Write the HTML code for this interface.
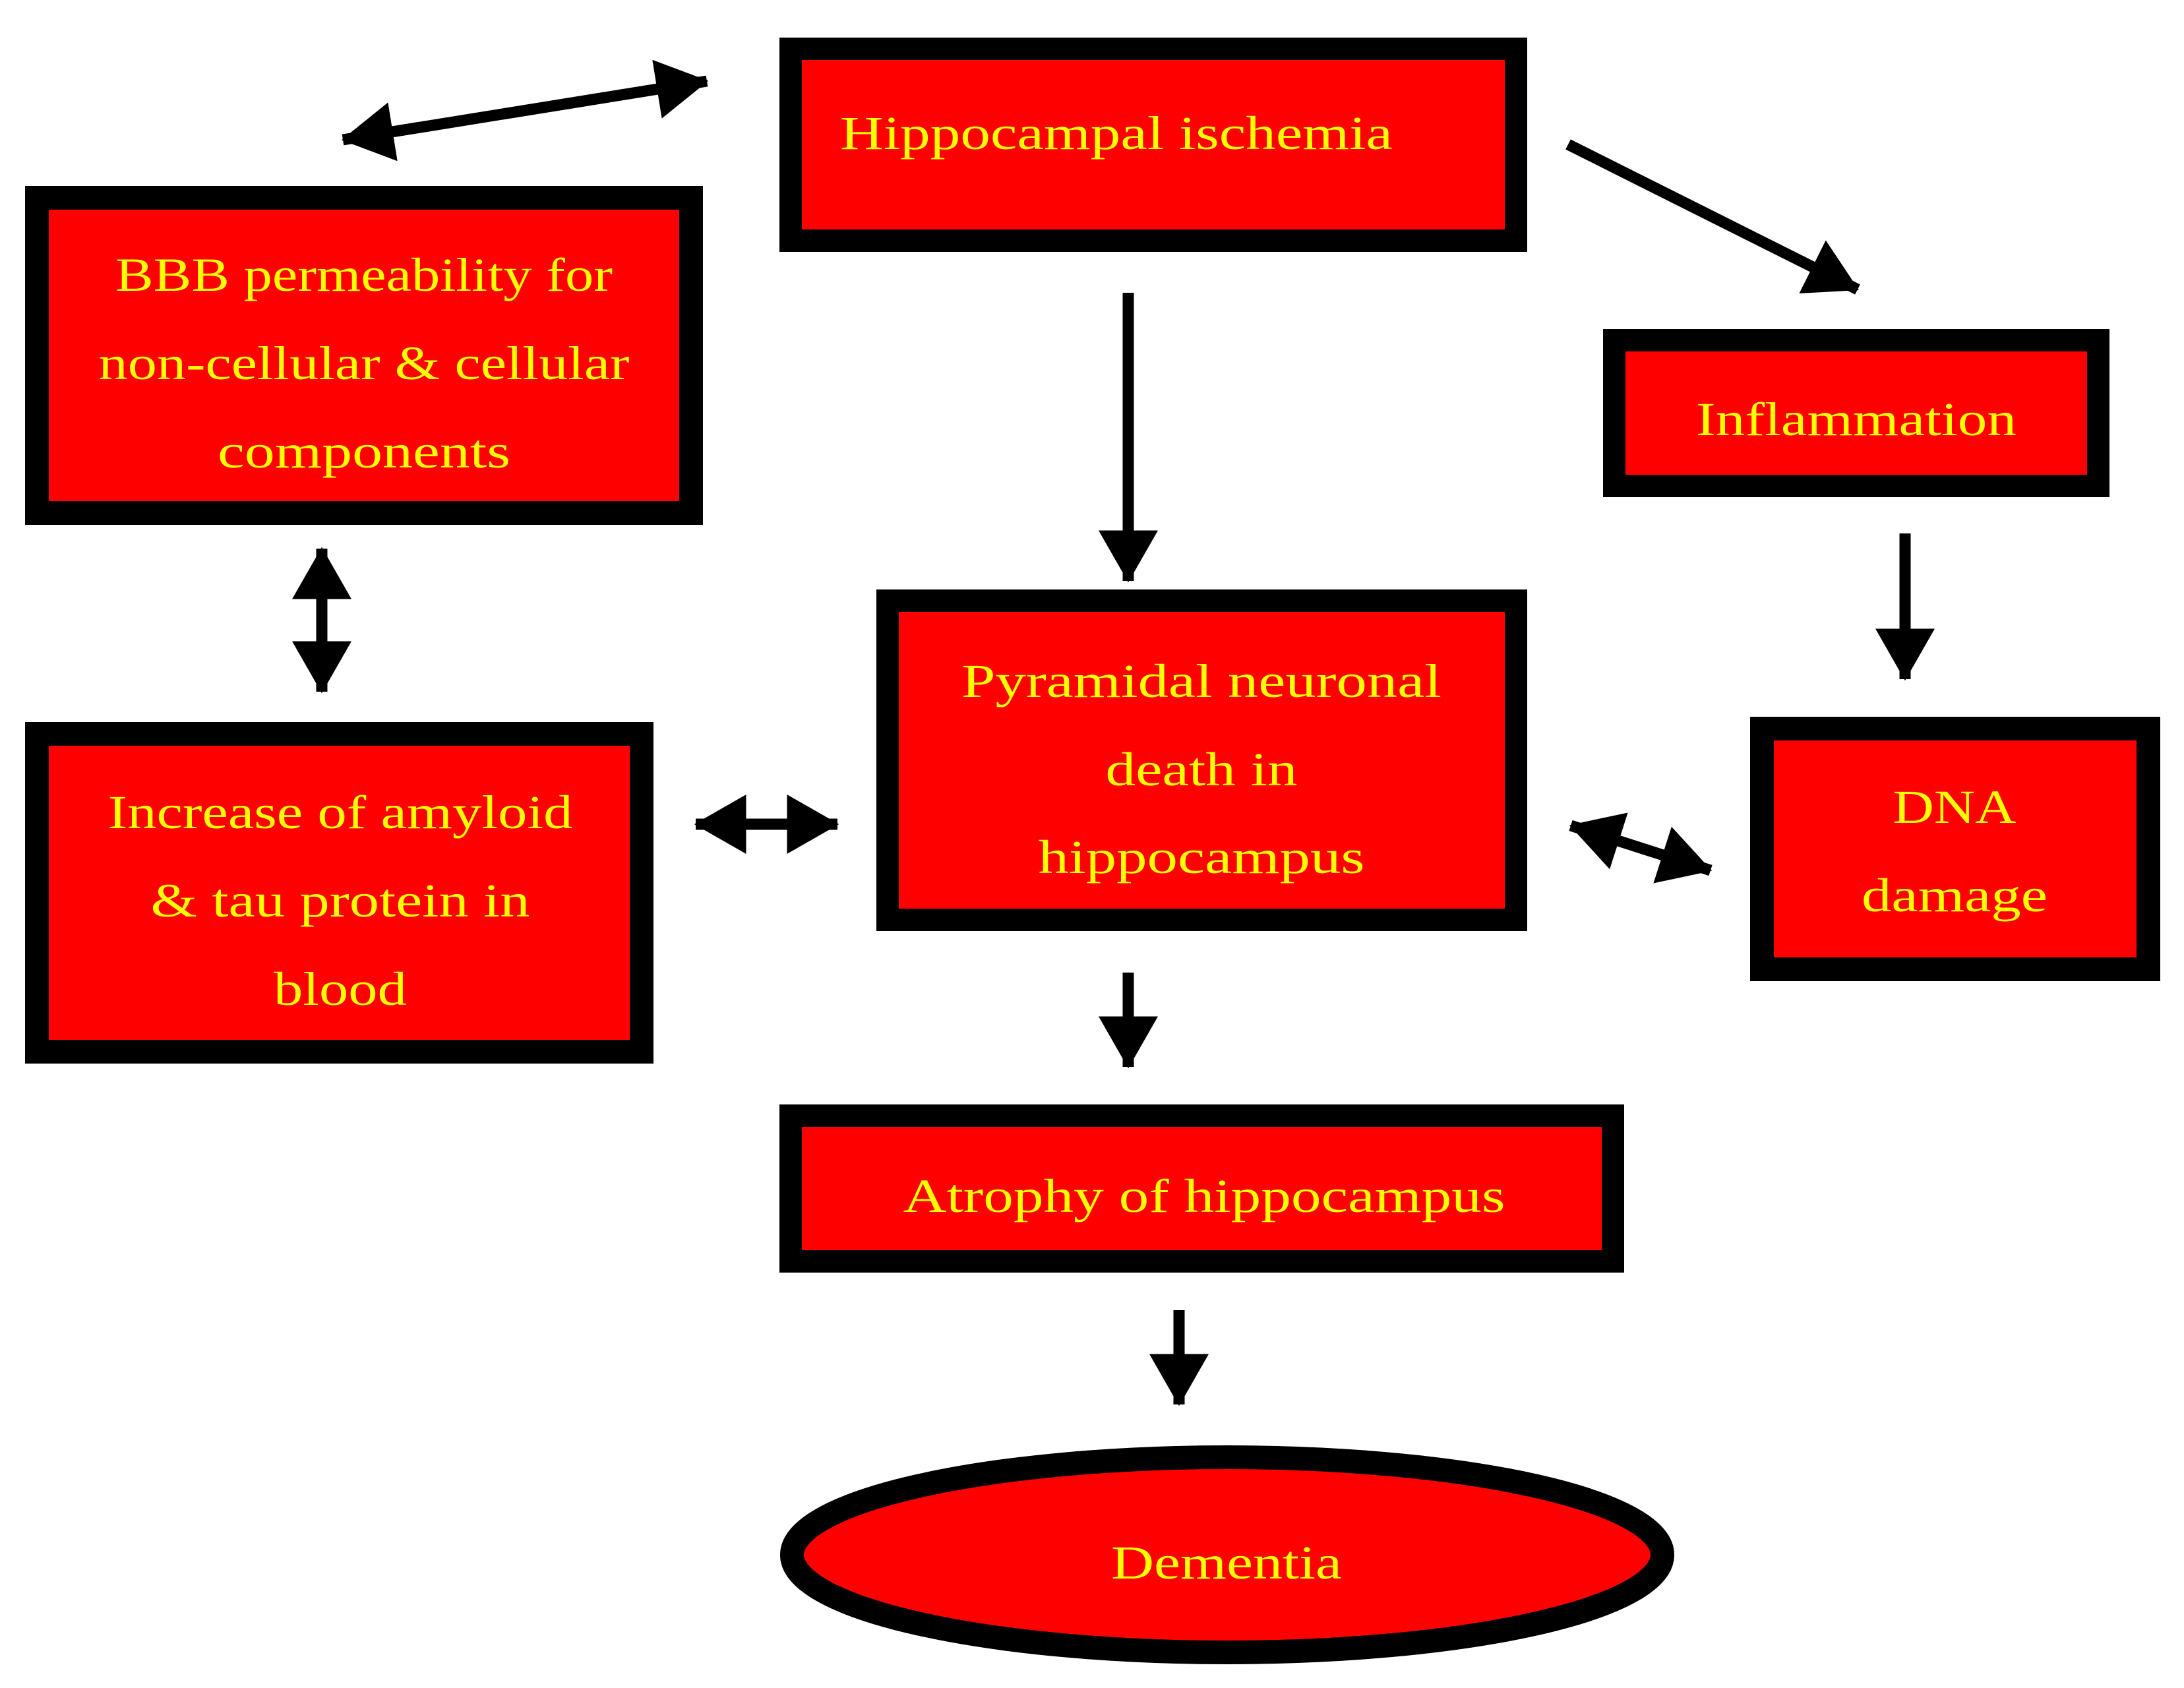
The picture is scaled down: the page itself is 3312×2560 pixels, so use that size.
<!DOCTYPE html>
<html><head><meta charset="utf-8"><style>html,body{margin:0;padding:0;background:#fff}svg{display:block}</style></head>
<body>
<svg width="3312" height="2560" viewBox="0 0 3312 2560" xmlns="http://www.w3.org/2000/svg">
<defs>
<marker id="h" markerUnits="userSpaceOnUse" markerWidth="90" markerHeight="90" viewBox="0 0 70 80" refX="68" refY="40" orient="auto-start-reverse"><path d="M0,0 L70,40 L0,80 Z" fill="#000"/></marker>
</defs>
<g fill="#000">
<rect x="1182" y="57" width="1134" height="325"/>
<rect x="38" y="282" width="1028" height="514"/>
<rect x="2431" y="499" width="768" height="255"/>
<rect x="1329" y="894" width="987" height="518"/>
<rect x="38" y="1095" width="953" height="518"/>
<rect x="2654" y="1087" width="622" height="401"/>
<rect x="1182" y="1675" width="1281" height="255"/>
</g>
<g fill="#ff0000">
<rect x="1216" y="91" width="1066" height="257"/>
<rect x="74" y="318" width="956" height="442"/>
<rect x="2465" y="533" width="700" height="187"/>
<rect x="1363" y="928" width="919" height="450"/>
<rect x="74" y="1131" width="881" height="446"/>
<rect x="2690" y="1123" width="550" height="329"/>
<rect x="1216" y="1709" width="1213" height="187"/>
</g>
<ellipse cx="1861" cy="2358" rx="660" ry="148" fill="#ff0000" stroke="#000" stroke-width="36"/>
<g stroke="#000" stroke-width="17" fill="none">
<line x1="520" y1="212" x2="1072" y2="123" marker-start="url(#h)" marker-end="url(#h)"/>
<line x1="2378" y1="219" x2="2817" y2="439" marker-end="url(#h)"/>
<line x1="1711" y1="444" x2="1711" y2="881" marker-end="url(#h)"/>
<line x1="488" y1="832" x2="488" y2="1049" marker-start="url(#h)" marker-end="url(#h)"/>
<line x1="1055" y1="1250" x2="1270" y2="1250" marker-start="url(#h)" marker-end="url(#h)"/>
<line x1="2889" y1="809" x2="2889" y2="1030" marker-end="url(#h)"/>
<line x1="2382" y1="1252" x2="2594" y2="1320" marker-start="url(#h)" marker-end="url(#h)"/>
<line x1="1711" y1="1475" x2="1711" y2="1618" marker-end="url(#h)"/>
<line x1="1788" y1="1987" x2="1788" y2="2130" marker-end="url(#h)"/>
</g>
<g font-family="'Liberation Serif', serif" font-size="72" fill="#ffff00" text-anchor="middle" lengthAdjust="spacingAndGlyphs">
<text x="1693" y="226" textLength="838" lengthAdjust="spacingAndGlyphs">Hippocampal ischemia</text>
<text x="552" y="441" textLength="754" lengthAdjust="spacingAndGlyphs">BBB permeability for</text>
<text x="552" y="575" textLength="805" lengthAdjust="spacingAndGlyphs">non-cellular &amp; cellular</text>
<text x="552" y="709" textLength="444" lengthAdjust="spacingAndGlyphs">components</text>
<text x="2815" y="660" textLength="486" lengthAdjust="spacingAndGlyphs">Inflammation</text>
<text x="1822" y="1057" textLength="728" lengthAdjust="spacingAndGlyphs">Pyramidal neuronal</text>
<text x="1822" y="1191" textLength="291" lengthAdjust="spacingAndGlyphs">death in</text>
<text x="1822" y="1324" textLength="495" lengthAdjust="spacingAndGlyphs">hippocampus</text>
<text x="516" y="1256" textLength="705" lengthAdjust="spacingAndGlyphs">Increase of amyloid</text>
<text x="516" y="1390" textLength="575" lengthAdjust="spacingAndGlyphs">&amp; tau protein in</text>
<text x="516" y="1524" textLength="202" lengthAdjust="spacingAndGlyphs">blood</text>
<text x="2964" y="1248" textLength="187" lengthAdjust="spacingAndGlyphs">DNA</text>
<text x="2964" y="1382" textLength="282" lengthAdjust="spacingAndGlyphs">damage</text>
<text x="1826" y="1838" textLength="913" lengthAdjust="spacingAndGlyphs">Atrophy of hippocampus</text>
<text x="1860" y="2394" textLength="350" lengthAdjust="spacingAndGlyphs">Dementia</text>
</g>
</svg>
</body></html>
